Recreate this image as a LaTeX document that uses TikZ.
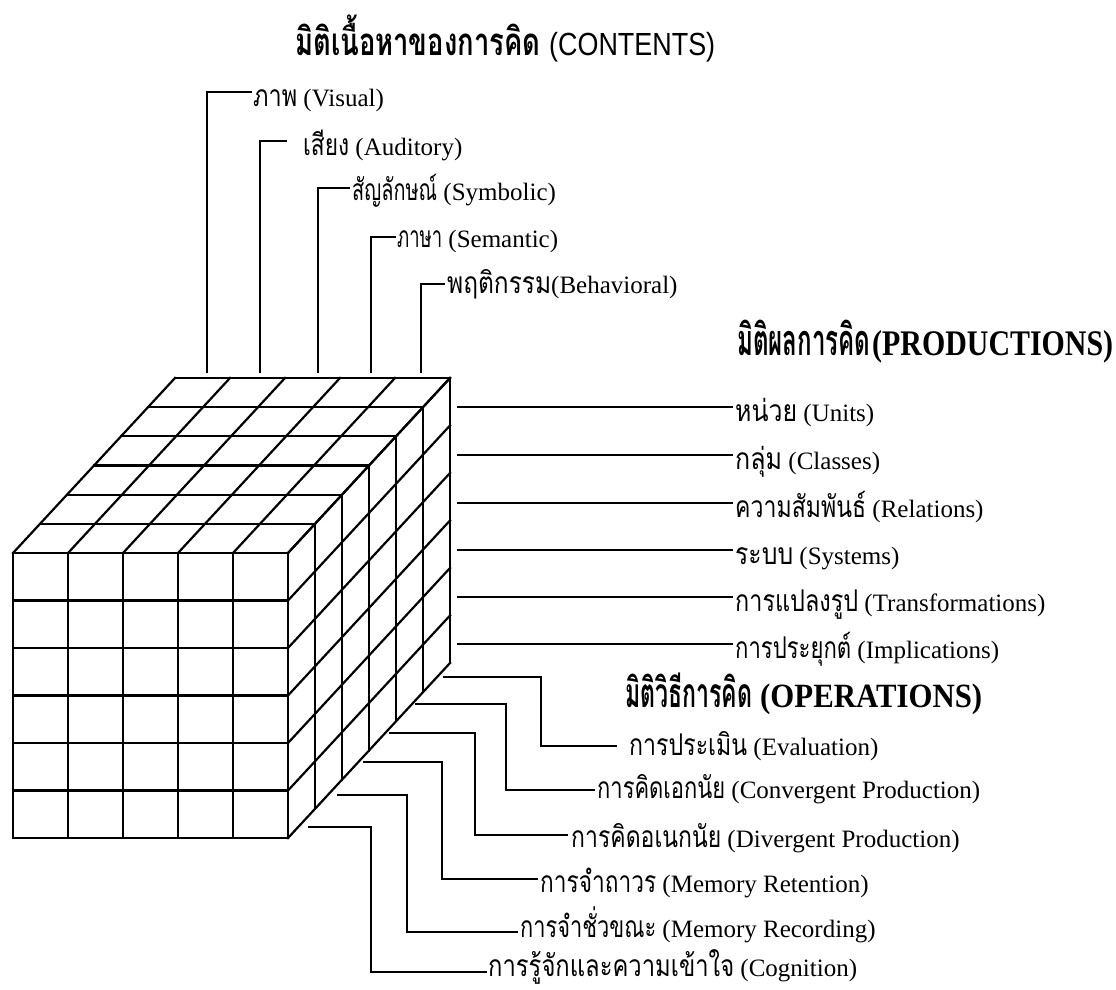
\documentclass[tikz,border=0pt]{standalone}
\usepackage{fontspec}
\usepackage{graphicx}
\setmainfont{Liberation Serif}
\newfontfamily\thai[Script=Thai, Scale=1.2]{Loma}
\newfontfamily\ttlsans{Liberation Sans}
\newcommand{\thw}[2]{\resizebox{#1pt}{\height}{\thai #2}}
\newcommand{\lw}[2]{\resizebox{#1pt}{\height}{#2}}
\tikzset{
  cube/.style={line width=2.2pt, line cap=rect, line join=miter},
  leader/.style={line width=1.8pt},
  lbl/.style={anchor=base west, inner sep=0pt, font=\fontsize{25}{28}\selectfont},
  ttl/.style={anchor=base west, inner sep=0pt}
}
\begin{document}
\begin{tikzpicture}[x=1pt,y=-1pt]
\useasboundingbox[fill=white] (0,0) rectangle (1116,989);
% ---------- cube ----------
\foreach \i in {0,...,5} \draw[cube] ({13+55*\i},553) -- ({13+55*\i},838);
\foreach \j in {0,...,6} \draw[cube] (13,{553+47.5*\j}) -- (288,{553+47.5*\j});
\foreach \k in {0,...,6} \draw[cube] ({13+27*\k},{553-29.1667*\k}) -- ({288+27*\k},{553-29.1667*\k});
\foreach \i in {0,...,5} \draw[cube] ({13+55*\i},553) -- ({175+55*\i},378);
\foreach \k in {0,...,6} \draw[cube] ({288+27*\k},{553-29.1667*\k}) -- ({288+27*\k},{838-29.1667*\k});
\foreach \j in {0,...,6} \draw[cube] (288,{553+47.5*\j}) -- (450,{378+47.5*\j});
% ---------- titles ----------
\node[ttl] (tC) at (295,55) {\fontsize{32}{36}\selectfont\thw{245}{\bfseries มิติเนื้อหาของการคิด}\hspace{9pt}\lw{166}{\ttlsans (CONTENTS)}};
\node[ttl] (tP) at (737,355) {\fontsize{36}{40}\selectfont\bfseries\thw{133}{มิติผลการคิด}\hspace{2pt}\lw{241}{(PRODUCTIONS)}};
\node[ttl] (tO) at (625,707) {\fontsize{34}{38}\selectfont\bfseries\thw{127}{มิติวิธีการคิด}\hspace{8pt}\lw{222}{(OPERATIONS)}};
% ---------- contents ----------
\node[lbl] (c1) at (253,106) {\thw{44}{ภาพ} (Visual)};
\node[lbl] (c2) at (303,155) {\thw{46}{เสียง} (Auditory)};
\node[lbl] (c3) at (352,200) {\thw{85}{สัญลักษณ์} (Symbolic)};
\node[lbl] (c4) at (397,247) {\thw{45}{ภาษา} (Semantic)};
\node[lbl] (c5) at (447,293) {\thw{104}{พฤติกรรม}(Behavioral)};
\coordinate (sc1) at (207,373); \coordinate (ec1) at (252,92);
\coordinate (sc2) at (260,373); \coordinate (ec2) at (287,141);
\coordinate (sc3) at (318,373); \coordinate (ec3) at (350,188);
\coordinate (sc4) at (371,373); \coordinate (ec4) at (396,237);
\coordinate (sc5) at (421,373); \coordinate (ec5) at (445,284);
\foreach \n in {1,...,5} \draw[leader] (sc\n) |- (ec\n);
% ---------- productions ----------
\node[lbl] (p1) at (735,421) {\thw{62}{หน่วย} (Units)};
\node[lbl] (p2) at (735,469) {\thw{47}{กลุ่ม} (Classes)};
\node[lbl] (p3) at (735,517) {\thw{131}{ความสัมพันธ์} (Relations)};
\node[lbl] (p4) at (735,564) {\thw{58}{ระบบ} (Systems)};
\node[lbl] (p5) at (735,611) {\thw{123}{การแปลงรูป} (Transformations)};
\node[lbl] (p6) at (735,658) {\thw{116}{การประยุกต์} (Implications)};
\foreach \n/\yy in {1/407,2/455,3/503,4/550,5/597,6/644} {
  \coordinate (sp\n) at (457,\yy); \coordinate (ep\n) at (733,\yy);
  \draw[leader] (sp\n) -- (ep\n);
}
% ---------- operations ----------
\node[lbl] (o1) at (629,755) {\thw{118}{การประเมิน} (Evaluation)};
\node[lbl] (o2) at (597,798) {\thw{128}{การคิดเอกนัย} (Convergent Production)};
\node[lbl] (o3) at (571,847) {\thw{150}{การคิดอเนกนัย} (Divergent Production)};
\node[lbl] (o4) at (540,892) {\thw{116}{การจำถาวร} (Memory Retention)};
\node[lbl] (o5) at (520,937) {\thw{136}{การจำชั่วขณะ} (Memory Recording)};
\node[lbl] (o6) at (488,976) {\thw{246}{การรู้จักและความเข้าใจ} (Cognition)};
\coordinate (so1) at (443,677); \coordinate (mo1) at (541,677); \coordinate (eo1) at (617,746);
\coordinate (so2) at (415,704); \coordinate (mo2) at (506,704); \coordinate (eo2) at (595,790);
\coordinate (so3) at (389,733); \coordinate (mo3) at (475,733); \coordinate (eo3) at (568,835);
\coordinate (so4) at (363,762); \coordinate (mo4) at (442,762); \coordinate (eo4) at (538,879);
\coordinate (so5) at (337,795); \coordinate (mo5) at (407,795); \coordinate (eo5) at (518,932);
\coordinate (so6) at (308,827); \coordinate (mo6) at (371,827); \coordinate (eo6) at (487,972);
\foreach \n in {1,...,6} \draw[leader] (so\n) -- (mo\n) |- (eo\n);
\end{tikzpicture}
\end{document}
